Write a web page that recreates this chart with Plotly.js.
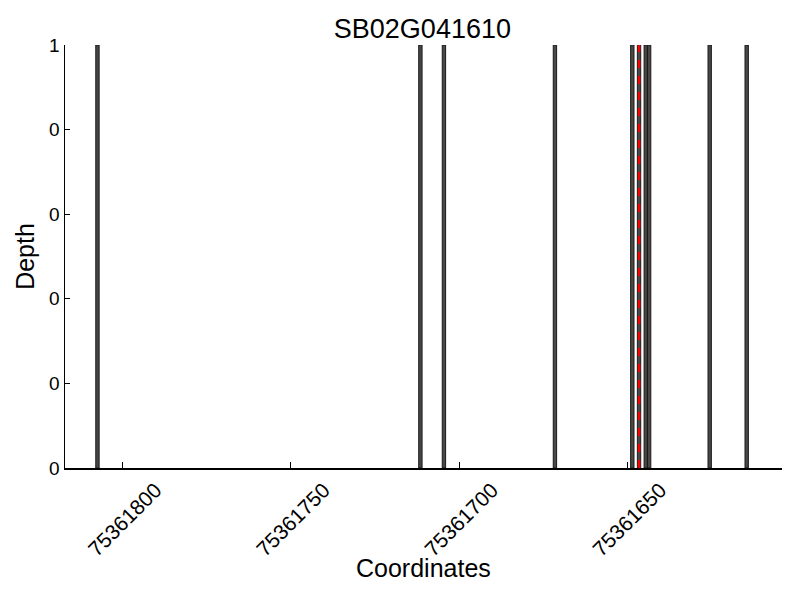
<!DOCTYPE html>
<html>
<head>
<meta charset="utf-8">
<script src="https://cdn.plot.ly/plotly-3.0.1.min.js"></script>
<style>html,body{margin:0;padding:0;background:#fff;}#chart{width:800px;height:600px;}</style>
</head>
<body>
<div id="chart"></div>
<script>
// Bar start coordinates (each bar spans one base) and depths
const coordinates = [75361807, 75361711, 75361704, 75361671, 75361648, 75361646, 75361644, 75361643, 75361625, 75361614];
const depths = [1, 1, 1, 1, 1, 1, 1, 1, 1, 1];
const markerPosition = 75361646.5;
const xTickVals = [75361800, 75361750, 75361700, 75361650];
const xTickText = ["75361800", "75361750", "75361700", "75361650"];
const yTickVals = [0, 0.2, 0.4, 0.6, 0.8, 1];
const yTickText = ["0", "0", "0", "0", "0", "1"];
const titleText = "SB02G041610";
const xTitleText = "Coordinates";
const yTitleText = "Depth";

const font = "Liberation Sans, Arial, Helvetica, sans-serif";

const traces = [
  {
    type: "bar",
    x: coordinates,
    y: depths,
    width: 1,
    offset: 0,
    marker: {color: "#484848", line: {color: "#1a1a1a", width: 1}},
    hoverinfo: "x+y",
    showlegend: false
  },
  {
    type: "scatter",
    mode: "lines",
    x: [markerPosition, markerPosition],
    y: [0, 1],
    line: {color: "#ff0000", width: 2.5, dash: "8px,8px"},
    showlegend: false,
    hoverinfo: "skip"
  }
];

const layout = {
  width: 800,
  height: 600,
  margin: {l: 65, r: 18, t: 45, b: 132},
  paper_bgcolor: "#ffffff",
  plot_bgcolor: "#ffffff",
  font: {family: font, color: "#000"},
  bargap: 0,
  title: {text: titleText, font: {size: 27, family: font, color: "#000"}, x: 0.528, xanchor: "center", y: 0.953, yanchor: "middle"},
  xaxis: {
    range: [75361817.15, 75361604.0],
    tickvals: xTickVals,
    ticktext: xTickText,
    tickangle: -45,
    ticklabelshift: -33,
    ticklabelstandoff: 0,
    ticks: "inside",
    ticklen: 6,
    tickwidth: 1,
    tickcolor: "#000",
    showline: true,
    linecolor: "#000",
    linewidth: 1.5,
    mirror: false,
    showgrid: false,
    zeroline: false,
    automargin: false,
    tickfont: {size: 21, family: font, color: "#000"}
  },
  yaxis: {
    range: [0, 1],
    tickvals: yTickVals,
    ticktext: yTickText,
    ticks: "inside",
    ticklen: 5,
    tickwidth: 1,
    tickcolor: "#000",
    showline: true,
    linecolor: "#000",
    linewidth: 1.5,
    mirror: false,
    showgrid: false,
    zeroline: false,
    automargin: false,
    tickfont: {size: 19, family: font, color: "#000"},
    title: {text: yTitleText, font: {size: 25, family: font, color: "#000"}, standoff: 7}
  },
  annotations: [
    {
      text: xTitleText,
      xref: "paper", yref: "paper",
      x: 0.5, y: -0.236,
      xanchor: "center", yanchor: "middle",
      showarrow: false,
      font: {size: 25, family: font, color: "#000"}
    }
  ]
};

Plotly.newPlot("chart", traces, layout, {displayModeBar: false, staticPlot: true});
</script>
</body>
</html>
